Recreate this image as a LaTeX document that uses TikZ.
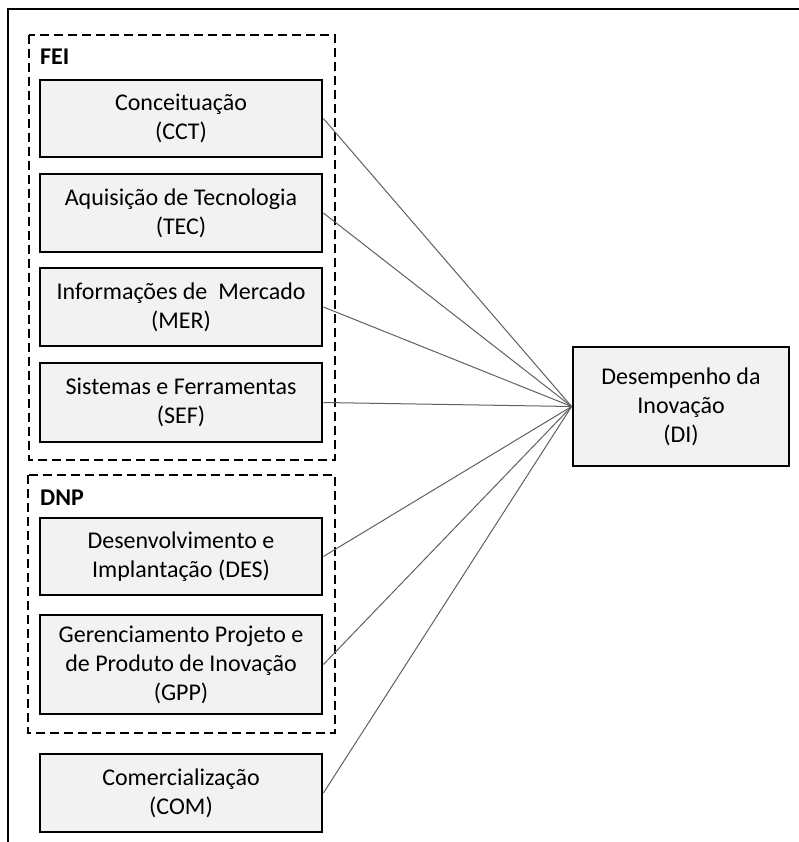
\documentclass[tikz,border=0pt]{standalone}
\usepackage{fontspec}
\setmainfont{Carlito}
\definecolor{boxgray}{HTML}{F2F2F2}
\definecolor{linegray}{HTML}{606060}
\begin{document}
\begin{tikzpicture}[x=1pt,y=-1pt,
  box/.style={draw=black, line width=2.8pt, fill=boxgray, minimum width=282pt,
    minimum height=77pt, align=center, inner sep=0pt, font=\fontsize{24}{29}\selectfont},
  grp/.style={draw=black, line width=2.8pt, dash pattern=on 9pt off 5pt},
  grplabel/.style={anchor=base west, inner sep=0pt, font=\fontsize{24}{29}\selectfont\bfseries},
  frame/.style={draw=black, line width=2.4pt},
  link/.style={draw=linegray, line width=1pt}]
\useasboundingbox (0,0) rectangle (799,842);
% outer frame
\draw[frame] (8,842) -- (8,9) -- (799,9);
% groups
\draw[grp] (29,35) rectangle (335,460);
\draw[grp] (28,475) rectangle (335,733);
\node[grplabel] (fei) at (40,65) {FEI};
\node[grplabel] (dnp) at (40,505) {DNP};
% boxes
\node[box] (cct) at (181,118.5) {Conceitua\c{c}ão\\(CCT)};
\node[box, minimum height=78pt] (tec) at (181,213) {Aquisição de Tecnologia\\(TEC)};
\node[box, minimum height=78pt] (mer) at (181,307) {Informações de\ \ Mercado\\(MER)};
\node[box, minimum height=79pt] (sef) at (181,402.5) {Sistemas e Ferramentas\\(SEF)};
\node[box] (des) at (181,556.5) {Desenvolvimento e\\Implantação (DES)};
\node[box, minimum height=99pt] (gpp) at (181,664.5) {Gerenciamento Projeto e\\de Produto de Inovação\\(GPP)};
\node[box, minimum height=78pt] (com) at (181,793) {Comercialização\\(COM)};
\node[box, minimum width=216pt, minimum height=119pt] (di) at (681,406.5) {Desempenho da\\Inovação\\(DI)};
% connectors
\foreach \n in {cct,tec,mer,sef,des,gpp,com}
  \draw[link] (\n.east) -- (di.west);
\end{tikzpicture}
\end{document}
